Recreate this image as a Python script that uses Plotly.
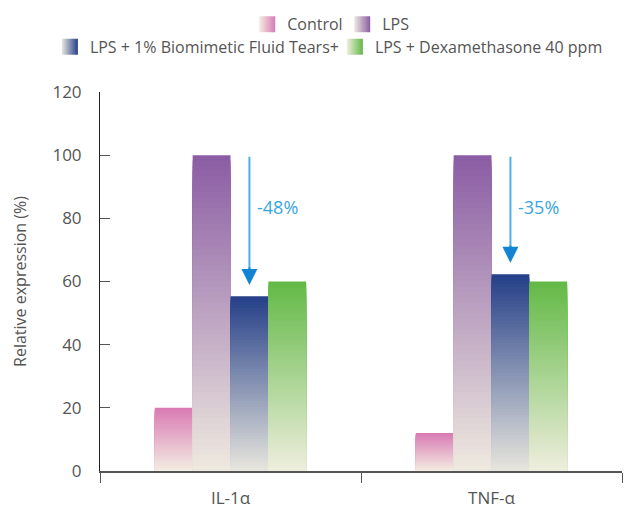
import plotly.graph_objects as go

# ---- data ----
categories = ["IL-1α", "TNF-α"]
series_names = ["Control", "LPS", "LPS + 1% Biomimetic Fluid Tears+", "LPS + Dexamethasone 40 ppm"]
control = [20, 12]
lps = [100, 100]
tears = [55.3, 62.3]
dexa = [60, 60]
reductions = ["-48%", "-35%"]
y_ticks = [0, 20, 40, 60, 80, 100, 120]

# ---- styles ----
top_colors = ["#d97ab3", "#8a5ca3", "#243f88", "#62b946"]
bottom_colors = ["#f3ede2", "#efeae0", "#e8e6dd", "#efeede"]
FONT = "Open Sans"
TXT = "#555555"
N_SEG = 60
BARGAP = 0.42

def hex2rgb(h):
    h = h.lstrip("#")
    return tuple(int(h[i:i + 2], 16) for i in (0, 2, 4))

def mix(c1, c2, t):
    a, b = hex2rgb(c1), hex2rgb(c2)
    return "rgb(%d,%d,%d)" % tuple(round(a[k] + (b[k] - a[k]) * t) for k in range(3))

fig = go.Figure()
all_series = [control, lps, tears, dexa]

# gradient bars: overlay progressively shorter bars (tallest first), no seams
for si, vals in enumerate(all_series):
    for i in range(N_SEG, 0, -1):
        frac = i / N_SEG
        t = (i - 0.5) / N_SEG  # colour of the visible band
        fig.add_trace(go.Bar(
            x=categories,
            y=[v * frac for v in vals],
            offsetgroup=str(si),
            marker=dict(color=mix(bottom_colors[si], top_colors[si], t), line=dict(width=0)),
            showlegend=False,
            hoverinfo="skip",
        ))

# legend entries (gradient swatches)
for si, name in enumerate(series_names):
    fig.add_trace(go.Scatter(
        x=[None], y=[None], mode="markers", name=name,
        marker=dict(symbol="square", size=16, color=bottom_colors[si],
                    gradient=dict(type="horizontal", color=top_colors[si])),
        legend="legend" if si < 2 else "legend2",
    ))

# arrows at the tears bar position within each group
n_series = len(all_series)
group_w = 1 - BARGAP
bar_w = group_w / n_series
tears_offset = -group_w / 2 + bar_w * 2.5
for ci in range(len(categories)):
    xpos = ci + tears_offset
    tip = tears[ci] + 3.6
    fig.add_annotation(
        x=xpos, y=tip + 2, ax=xpos, ay=lps[ci],
        xref="x", yref="y", axref="x", ayref="y",
        showarrow=True, arrowhead=0, arrowwidth=2,
        arrowcolor="#4cb0e8", text="",
    )
    fig.add_annotation(
        x=xpos, y=tip, ax=xpos, ay=tip + 6,
        xref="x", yref="y", axref="x", ayref="y",
        showarrow=True, arrowhead=2, arrowsize=1.6, arrowwidth=2,
        arrowcolor="#1184d4", text="",
    )
    fig.add_annotation(
        x=xpos, y=83.5, xref="x", yref="y", text=reductions[ci],
        showarrow=False, xanchor="left", xshift=6,
        font=dict(family=FONT, size=18, color="#3aa6e0"),
    )

fig.update_layout(
    width=630, height=508,
    margin=dict(l=100, r=8, t=92, b=37, autoexpand=False),
    paper_bgcolor="white", plot_bgcolor="white",
    barmode="group", bargap=BARGAP, bargroupgap=0,
    font=dict(family=FONT, size=16, color=TXT),
    legend=dict(orientation="h", xref="paper", yref="paper",
                x=0.464, y=1.2236, xanchor="center", yanchor="top",
                entrywidth=50, entrywidthmode="pixels",
                font=dict(family=FONT, size=16, color=TXT), bgcolor="rgba(0,0,0,0)"),
    legend2=dict(orientation="h", xref="paper", yref="paper",
                 x=-0.096, y=1.164, xanchor="left", yanchor="top",
                 entrywidth=240, entrywidthmode="pixels",
                 font=dict(family=FONT, size=16, color=TXT), bgcolor="rgba(0,0,0,0)"),
    showlegend=True,
)

fig.update_xaxes(
    type="category", range=[-0.5, 1.5], tickson="boundaries",
    ticks="outside", ticklen=10, tickcolor="#555555", tickwidth=1,
    showline=True, linecolor="#555555", linewidth=2,
    showgrid=False, zeroline=False,
    ticklabelstandoff=11,
    tickfont=dict(family=FONT, size=17, color=TXT),
)
fig.update_yaxes(
    range=[0, 120], tickvals=y_ticks,
    ticks="inside", ticklen=10, tickcolor="#555555", tickwidth=1,
    showline=True, linecolor="#222222", linewidth=1,
    showgrid=False, zeroline=False,
    ticklabelstandoff=14,
    tickfont=dict(family=FONT, size=17, color=TXT),
    title=dict(text="Relative expression (%)", standoff=21,
               font=dict(family=FONT, size=16, color=TXT)),
)

fig.write_html("out.html", config={"displayModeBar": False},
               post_script="document.body.style.margin='0';")
